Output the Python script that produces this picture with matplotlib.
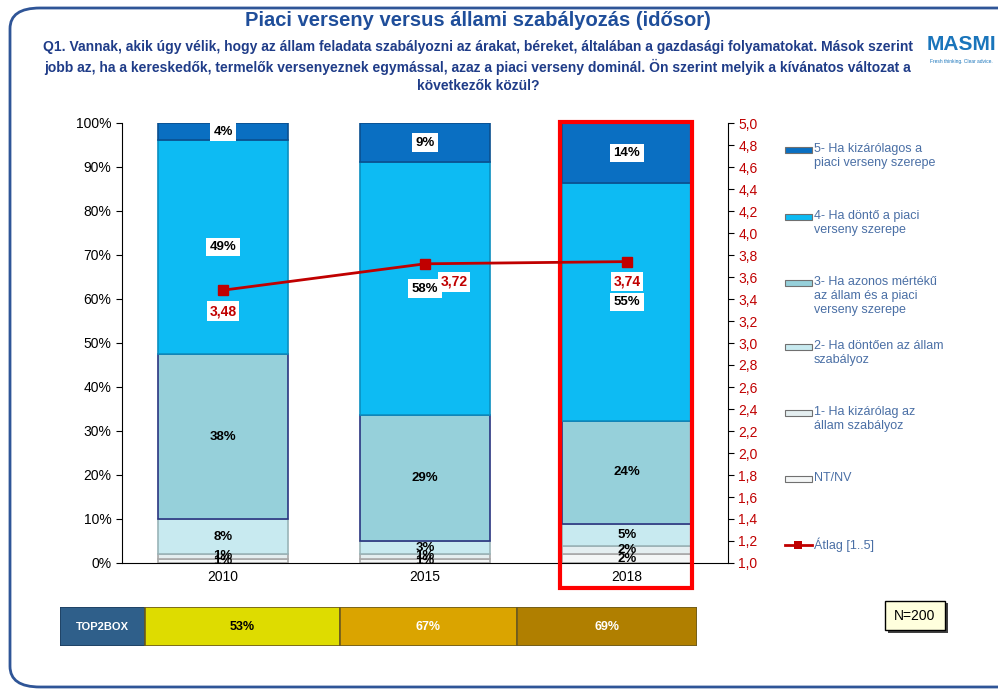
import matplotlib
matplotlib.use("Agg")
import matplotlib.pyplot as plt
from matplotlib.patches import Rectangle, FancyBboxPatch
import numpy as np

plt.rcParams['font.family'] = ['Liberation Sans', 'DejaVu Sans']

# data
years = ['2010', '2015', '2018']
series = ['NT/NV', '1- Ha kizárólag az\nállam szabályoz', '2- Ha döntően az állam\nszabályoz',
          '3- Ha azonos mértékű\naz állam és a piaci\nverseny szerepe',
          '4- Ha döntő a piaci\nverseny szerepe', '5- Ha kizárólagos a\npiaci verseny szerepe']
nt_nv = [1, 1, 2]
s1 = [1, 1, 2]
s2 = [8, 3, 5]
s3 = [38, 29, 24]
s4 = [49, 58, 55]
s5 = [4, 9, 14]
atlag = [3.48, 3.72, 3.74]
top2box = [53, 67, 69]

colors = ['#F4F6F6', '#E4EEF0', '#C8EAF0', '#96D0DA', '#0DBBF3', '#0A6FC2']
edges = ['#A8A8A8', '#A8A8A8', '#9AB4B8', '#2A3580', '#0A8FC0', '#0A4F8F']
white_box = [False, False, False, False, True, True]

W, H = 998, 689
fig = plt.figure(figsize=(W / 100, H / 100), dpi=100)

def fx(px):
    return px / W

def fy(py):
    return 1 - py / H

# frame
frame = FancyBboxPatch((fx(10), fy(687)), fx(1040), fy(8) - fy(687),
                       boxstyle="round,pad=0,rounding_size=0.03", transform=fig.transFigure,
                       fill=False, ec='#2F5597', lw=2)
fig.patches.append(frame)

fig.text(fx(478), fy(21), 'Piaci verseny versus állami szabályozás (idősor)', ha='center', va='center',
         fontsize=14.5, fontweight='bold', color='#1F4E9A')
qlines = ['Q1. Vannak, akik úgy vélik, hogy az állam feladata szabályozni az árakat, béreket, általában a gazdasági folyamatokat. Mások szerint',
          'jobb az, ha a kereskedők, termelők versenyeznek egymással, azaz a piaci verseny dominál. Ön szerint melyik a kívánatos változat a',
          'következők közül?']
for i, l in enumerate(qlines):
    fig.text(fx(478), fy(47 + 19.5 * i), l, ha='center', va='center', fontsize=10,
             fontweight='bold', color='#1F3C88')

# logo
fig.text(fx(961), fy(45), 'MASMI', ha='center', va='center', fontsize=15, fontweight='bold', color='#1A75BB')
fig.text(fx(961), fy(61), 'Fresh thinking. Clear advice.', ha='center', va='center', fontsize=3.5, color='#1A75BB')

ax = fig.add_axes([fx(122), fy(563), fx(606), fy(123) - fy(563)])
ax2 = ax.twinx()
ax.set_zorder(1)
ax2.set_zorder(2)
ax2.patch.set_visible(False)

data = np.array([nt_nv, s1, s2, s3, s4, s5], dtype=float)
pct = data / data.sum(axis=0) * 100
x = np.arange(len(years))
bottom = np.zeros(len(years))
for i in range(len(series)):
    ax.bar(x, pct[i], bottom=bottom, width=0.64, color=colors[i], edgecolor=edges[i], lw=1.2)
    for j in range(len(years)):
        if data[i, j] <= 0:
            continue
        kw = {}
        if white_box[i]:
            kw['bbox'] = dict(boxstyle='square,pad=0.25', fc='white', ec='none')
        ax.text(x[j], bottom[j] + pct[i, j] / 2, f'{int(data[i, j])}%', ha='center', va='center',
                fontsize=9.5, fontweight='bold', color='black', **kw)
    bottom += pct[i]

ax.set_xlim(-0.5, 2.5)
ax.set_ylim(0, 100)
ax.set_yticks(np.arange(0, 101, 10))
ax.set_yticklabels([f'{v}%' for v in range(0, 101, 10)], fontsize=10)
ax.set_xticks(x)
ax.set_xticklabels(years, fontsize=10)
ax.tick_params(axis='x', length=0, pad=5)
ax.tick_params(axis='y', direction='out', length=4)
for s in ['top', 'right']:
    ax.spines[s].set_visible(False)

# highlight 2018
ax.add_patch(Rectangle((1.668, -5.7), 0.654, 105.9, fill=False, ec='#FF0000', lw=3, clip_on=False, zorder=10))

ax2.plot(x, atlag, color='#C00000', lw=2, marker='s', ms=7, zorder=5)
offs = [(0, -21), (29, -18), (0, -20)]
for j, v in enumerate(atlag):
    ax2.annotate(f'{v:.2f}'.replace('.', ','), (x[j], v), xytext=offs[j], textcoords='offset pixels',
                 ha='center', va='center', fontsize=10, fontweight='bold', color='#C00000',
                 bbox=dict(boxstyle='square,pad=0.2', fc='white', ec='none'))
ax2.set_ylim(1, 5)
ax2.set_yticks(np.arange(1, 5.01, 0.2))
ax2.set_yticklabels([f'{v:.1f}'.replace('.', ',') for v in np.arange(1, 5.01, 0.2)], fontsize=10, color='#C00000')
ax2.tick_params(axis='y', direction='out', length=4)
for s in ['top', 'left', 'bottom']:
    ax2.spines[s].set_visible(False)

# legend
leg_y = [479, 413, 347, 283, 217, 150]
for i in range(len(series)):
    y0 = leg_y[i]
    fig.patches.append(Rectangle((fx(785), fy(y0 + 3)), fx(27), fy(y0 - 3) - fy(y0 + 3), transform=fig.transFigure,
                                 fc=colors[i], ec='#707070', lw=0.8))
    fig.text(fx(814), fy(y0 - 7), series[i], ha='left', va='top', fontsize=9, color='#4A6FA5',
             linespacing=1.25)
fig.lines.append(plt.Line2D([fx(785), fx(812)], [fy(545), fy(545)], transform=fig.transFigure,
                            color='#C00000', lw=2))
fig.patches.append(Rectangle((fx(794), fy(549)), fx(8), fy(541) - fy(549), transform=fig.transFigure,
                             fc='#C00000', ec='none'))
fig.text(fx(814), fy(545), 'Átlag [1..5]', ha='left', va='center', fontsize=9, color='#4A6FA5')

# TOP2BOX row
bx = fig.add_axes([fx(60), fy(646), fx(637), fy(607) - fy(646)])
bx.set_xlim(60, 697)
bx.set_ylim(0, 1)
bx.axis('off')
cells = [(60, 145, '#2F5F8A', 'TOP2BOX', 'white'),
         (145, 340, '#DEDC00', f'{top2box[0]}%', 'black'),
         (340, 517, '#DAA400', f'{top2box[1]}%', 'white'),
         (517, 697, '#B07F00', f'{top2box[2]}%', 'white')]
for l, r, c, t, tc in cells:
    bx.barh(0.5, r - l, left=l, height=1, color=c, edgecolor='#6B5A20' if c != '#2F5F8A' else '#1E3F60', lw=1.2)
    bx.text((l + r) / 2, 0.5, t, ha='center', va='center', fontsize=9 if t != 'TOP2BOX' else 8,
            fontweight='bold', color=tc)

# N=200
fig.patches.append(Rectangle((fx(888), fy(633)), fx(60), fy(603) - fy(633), transform=fig.transFigure,
                             fc='#404040', ec='none'))
fig.patches.append(Rectangle((fx(885), fy(630)), fx(60), fy(601) - fy(630), transform=fig.transFigure,
                             fc='#FFFFDD', ec='black', lw=1))
fig.text(fx(915), fy(615.5), 'N=200', ha='center', va='center', fontsize=10)

fig.savefig('out.png', dpi=100)
